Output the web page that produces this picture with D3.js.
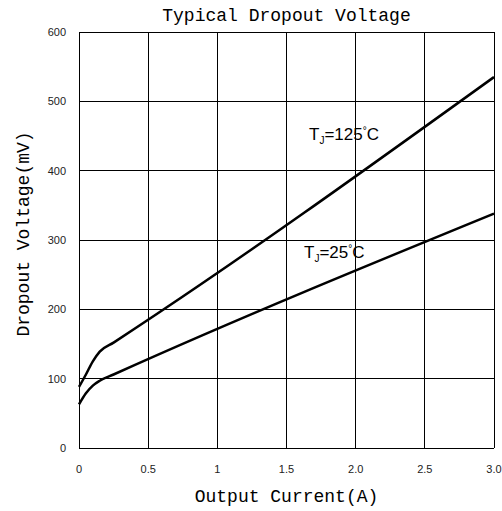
<!DOCTYPE html>
<html>
<head>
<meta charset="utf-8">
<script src="https://cdn.jsdelivr.net/npm/d3@7"></script>
<style>
  body { margin: 0; background: #fff; }
  svg { display: block; }
</style>
</head>
<body>
<div class="chart"></div>
<script>
const xTicks = [0, 0.5, 1, 1.5, 2.0, 2.5, 3.0];
const xTickLabels = ["0", "0.5", "1", "1.5", "2.0", "2.5", "3.0"];
const yTicks = [0, 100, 200, 300, 400, 500, 600];

const current125 = [0, 0.05, 0.1, 0.15, 0.25, 3.0];
const dropout125 = [88, 106, 125, 139, 152, 535];
const current25 = [0, 0.05, 0.1, 0.15, 0.25, 3.0];
const dropout25 = [63, 79, 90, 97, 106, 338];

const width = 502, height = 511;
const margin = {top: 32, right: 8, bottom: 63, left: 79};

const svg = d3.select(".chart").append("svg")
    .attr("width", width)
    .attr("height", height);

const x = d3.scaleLinear().domain([0, 3]).range([margin.left, width - margin.right]);
const y = d3.scaleLinear().domain([0, 600]).range([height - margin.bottom, margin.top]);

// grid
svg.append("g")
    .selectAll("line")
    .data(xTicks)
    .enter().append("line")
    .attr("x1", d => x(d)).attr("x2", d => x(d))
    .attr("y1", y(0)).attr("y2", y(600))
    .attr("stroke", "#000").attr("stroke-width", 1)
    .attr("shape-rendering", "crispEdges");

svg.append("g")
    .selectAll("line")
    .data(yTicks)
    .enter().append("line")
    .attr("x1", x(0)).attr("x2", x(3))
    .attr("y1", d => y(d)).attr("y2", d => y(d))
    .attr("stroke", "#000").attr("stroke-width", 1)
    .attr("shape-rendering", "crispEdges");

// tick labels
svg.append("g")
    .selectAll("text")
    .data(yTicks)
    .enter().append("text")
    .attr("x", x(0) - 13)
    .attr("y", d => y(d) + 4)
    .attr("text-anchor", "end")
    .attr("font-family", "'Liberation Sans', Arial, sans-serif")
    .attr("font-size", 11)
    .attr("fill", "#222")
    .text(d => d);

svg.append("g")
    .selectAll("text")
    .data(xTicks)
    .enter().append("text")
    .attr("x", d => x(d))
    .attr("y", y(0) + 25)
    .attr("text-anchor", "middle")
    .attr("font-family", "'Liberation Sans', Arial, sans-serif")
    .attr("font-size", 11)
    .attr("fill", "#222")
    .text((d, i) => xTickLabels[i]);

// curves
const line = d3.line()
    .x(d => x(d[0]))
    .y(d => y(d[1]))
    .curve(d3.curveMonotoneX);

[[current125, dropout125], [current25, dropout25]].forEach(function(s) {
    svg.append("path")
        .datum(d3.zip(s[0], s[1]))
        .attr("d", line)
        .attr("fill", "none")
        .attr("stroke", "#000")
        .attr("stroke-width", 2.5);
});

// curve labels
function tjLabel(px, py, temp) {
    const t = svg.append("text")
        .attr("x", px).attr("y", py)
        .attr("font-family", "'Liberation Sans', Arial, sans-serif")
        .attr("font-size", 17);
    t.append("tspan").text("T");
    t.append("tspan").attr("font-size", 10).attr("dy", 4).text("J");
    t.append("tspan").attr("dy", -4).text("=" + temp);
    t.append("tspan").attr("font-size", 10).attr("dy", -6).text("°");
    t.append("tspan").attr("dy", 6).text("C");
}
tjLabel(309, 140, "125");
tjLabel(304, 258, "25");

// titles
const mono = "'Liberation Mono', 'DejaVu Sans Mono', monospace";
svg.append("text")
    .attr("x", (x(0) + x(3)) / 2)
    .attr("y", 21)
    .attr("text-anchor", "middle")
    .attr("font-family", mono)
    .attr("font-size", 18)
    .text("Typical Dropout Voltage");

svg.append("text")
    .attr("x", (x(0) + x(3)) / 2)
    .attr("y", 502)
    .attr("text-anchor", "middle")
    .attr("font-family", mono)
    .attr("font-size", 18)
    .text("Output Current(A)");

svg.append("text")
    .attr("transform", "translate(29,234) rotate(-90)")
    .attr("text-anchor", "middle")
    .attr("font-family", mono)
    .attr("font-size", 18)
    .text("Dropout Voltage(mV)");
</script>
</body>
</html>
